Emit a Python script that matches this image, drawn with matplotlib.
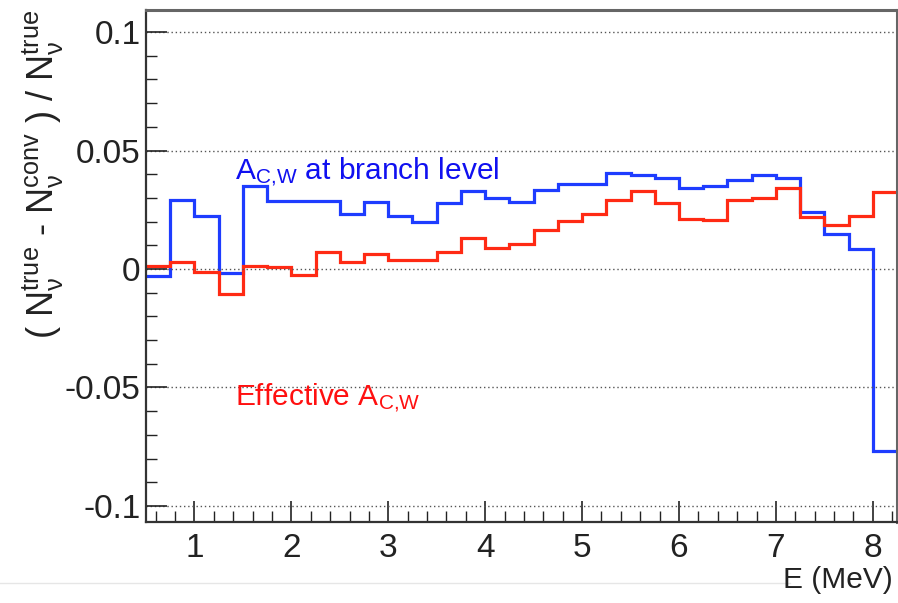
import numpy as np
import matplotlib.pyplot as plt
from matplotlib.ticker import MultipleLocator
from matplotlib.lines import Line2D

plt.rcParams['font.family'] = ['Liberation Sans', 'DejaVu Sans']
plt.rcParams['mathtext.fontset'] = 'custom'
plt.rcParams['mathtext.rm'] = 'Liberation Sans'
plt.rcParams['mathtext.it'] = 'Liberation Sans:italic'

# bin edges (MeV), 0.25 MeV bins
bin_edges = [0.5, 0.75, 1.0, 1.25, 1.5, 1.75, 2.0, 2.25, 2.5, 2.75, 3.0,
             3.25, 3.5, 3.75, 4.0, 4.25, 4.5, 4.75, 5.0, 5.25, 5.5, 5.75,
             6.0, 6.25, 6.5, 6.75, 7.0, 7.25, 7.5, 7.75, 8.0, 8.25]

# A_C,W at branch level
branch_level = [-0.0028, 0.0293, 0.0225, -0.0018, 0.0349, 0.0288, 0.0288,
                0.0288, 0.0233, 0.0281, 0.0225, 0.0198, 0.0277, 0.0328,
                0.0301, 0.0283, 0.0332, 0.0359, 0.0359, 0.0405, 0.0395,
                0.0383, 0.0342, 0.0350, 0.0374, 0.0398, 0.0383, 0.0240,
                0.0149, 0.0084, -0.0770]

# effective A_C,W
effective = [0.0011, 0.0030, -0.0013, -0.0105, 0.0011, 0.0010, -0.0027,
             0.0072, 0.0028, 0.0065, 0.0039, 0.0039, 0.0072, 0.0131,
             0.0089, 0.0105, 0.0166, 0.0204, 0.0233, 0.0293, 0.0328,
             0.0278, 0.0211, 0.0208, 0.0290, 0.0300, 0.0343, 0.0219,
             0.0186, 0.0222, 0.0325]

x_ticks = [1, 2, 3, 4, 5, 6, 7, 8]
y_ticks = [-0.1, -0.05, 0, 0.05, 0.1]
y_tick_labels = ['-0.1', '-0.05', '0', '0.05', '0.1']

fig = plt.figure(figsize=(8.98, 6.03), dpi=100)
ax = fig.add_axes([0.1626, 0.1343, 0.8363, 0.849])

ax.stairs(branch_level, bin_edges, baseline=None, color='#1e3cff', lw=2.3)
ax.stairs(effective, bin_edges, baseline=None, color='#ff2a14', lw=2.3)

ax.set_xlim(0.5, 8.25)
ax.set_ylim(-0.1068, 0.1093)

ax.set_yticks(y_ticks)
ax.set_yticklabels(y_tick_labels)
ax.set_xticks(x_ticks)
ax.xaxis.set_minor_locator(MultipleLocator(0.2))
ax.yaxis.set_minor_locator(MultipleLocator(0.01))

ax.tick_params(which='both', direction='in', top=False, right=False,
               labelsize=24, colors='#222222')
ax.tick_params(which='major', length=15, width=1.2)
ax.tick_params(which='minor', length=8, width=1.0)
ax.tick_params(axis='x', pad=8)
ax.tick_params(axis='y', pad=4)

ax.grid(axis='y', which='major', ls=(0, (1, 2)), color='#555555', lw=1.0)

for s in ['left', 'bottom']:
    ax.spines[s].set_color('#333333')
    ax.spines[s].set_linewidth(1.6)
for s in ['top', 'right']:
    ax.spines[s].set_color('#666666')
    ax.spines[s].set_linewidth(2.2)

ax.text(1.42, 0.038, r'$\mathregular{A_{C{,}W}}$ at branch level',
        color='#1010f0', fontsize=21.5)
ax.text(1.42, -0.0574, r'Effective $\mathregular{A_{C{,}W}}$',
        color='#ff1010', fontsize=21.5)

fig.text(0.994, 0.038, 'E (MeV)', ha='right', va='center', fontsize=21.5,
         color='#222222')
fig.text(0.048, 0.983,
         r'( $\mathregular{N_{\nu}^{true}}$ - $\mathregular{N_{\nu}^{conv}}$ )'
         r' / $\mathregular{N_{\nu}^{true}}$',
         rotation=90, ha='center', va='top', fontsize=26, color='#222222')

# faint line left over from the slide
fig.add_artist(Line2D([0.0, 0.88], [0.033, 0.033], color='#e6e6e6', lw=1.0,
                      transform=fig.transFigure))

fig.savefig('out.png', dpi=100)
